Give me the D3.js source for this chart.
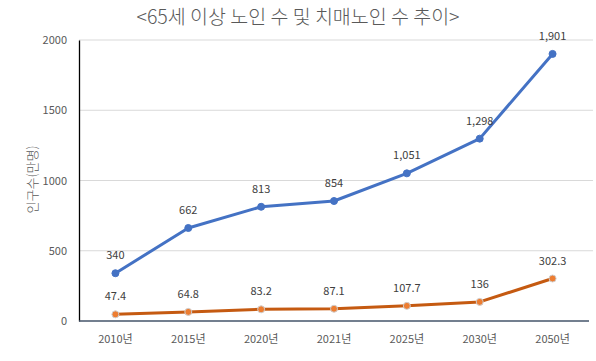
<!DOCTYPE html>
<html>
<head>
<meta charset="utf-8">
<script src="https://cdn.jsdelivr.net/npm/d3@7"></script>
<style>
  body { margin: 0; background: #fff; }
  text { font-family: "Malgun Gothic", "Noto Sans CJK KR", "Noto Sans", sans-serif; }
</style>
</head>
<body>
<svg></svg>
<script>
const WIDTH = 596;
const HEIGHT = 361;
const MARGINS = { left: 79, top: 40, right: 7, bottom: 40 };
const graphWidth = WIDTH - MARGINS.left - MARGINS.right;
const graphHeight = HEIGHT - MARGINS.top - MARGINS.bottom;

const categories = ['2010년', '2015년', '2020년', '2021년', '2025년', '2030년', '2050년'];
const elderly = [340, 662, 813, 854, 1051, 1298, 1901];
const elderlyLabels = ['340', '662', '813', '854', '1,051', '1,298', '1,901'];
const dementia = [47.4, 64.8, 83.2, 87.1, 107.7, 136, 302.3];
const dementiaLabels = ['47.4', '64.8', '83.2', '87.1', '107.7', '136', '302.3'];
const yTicks = [0, 500, 1000, 1500, 2000];

const svg = d3.select('svg').attr('width', WIDTH).attr('height', HEIGHT);

svg.append('text')
  .attr('x', WIDTH / 2)
  .attr('y', 24)
  .attr('text-anchor', 'middle')
  .attr('font-size', 19.5)
  .attr('font-weight', 300)
  .attr('fill', '#595959')
  .text('<65세 이상 노인 수 및 치매노인 수 추이>');

svg.append('text')
  .attr('transform', `translate(37, ${MARGINS.top + graphHeight / 2 - 1}) rotate(-90)`)
  .attr('text-anchor', 'middle')
  .attr('font-size', 13)
  .attr('font-weight', 300)
  .attr('fill', '#595959')
  .text('인구수(만명)');

const graph = svg.append('g')
  .attr('transform', `translate(${MARGINS.left}, ${MARGINS.top})`);

const x = d3.scaleBand().domain(categories).range([0, graphWidth]);
const y = d3.scaleLinear().domain([0, 2000]).range([graphHeight, 0]);
const cx = (d) => x(d) + x.bandwidth() / 2;

// gridlines
graph.selectAll('.grid')
  .data(yTicks.slice(1))
  .enter()
  .append('line')
  .attr('x1', 0)
  .attr('x2', graphWidth + 4)
  .attr('y1', (d) => y(d))
  .attr('y2', (d) => y(d))
  .attr('stroke', '#d9d9d9')
  .attr('stroke-width', 1);

const yAxis = d3.axisLeft(y).tickValues(yTicks).tickFormat(d3.format('d')).tickSize(0).tickPadding(12);
const yAxisGroup = graph.append('g').call(yAxis);
yAxisGroup.select('.domain').attr('stroke', '#000').attr('stroke-width', 1.3);
yAxisGroup.selectAll('text').attr('font-size', 11).attr('fill', '#595959')
  .style('font-family', '"Malgun Gothic", "Noto Sans CJK KR", sans-serif');

const xAxis = d3.axisBottom(x).tickSize(0).tickPadding(14);
const xAxisGroup = graph.append('g')
  .attr('transform', `translate(0, ${graphHeight})`)
  .call(xAxis);
xAxisGroup.select('.domain').attr('stroke', '#44546a').attr('stroke-width', 1.3)
  .attr('d', `M0,0H${graphWidth}`);
xAxisGroup.selectAll('text').attr('font-size', 11).attr('fill', '#595959')
  .style('font-family', '"Malgun Gothic", "Noto Sans CJK KR", sans-serif');

function drawSeries(values, labels, lineColor, markerColor, markerStroke) {
  const pts = categories.map((c, i) => ({ c, v: values[i], label: labels[i] }));
  const line = d3.line().x((d) => cx(d.c)).y((d) => y(d.v));
  graph.append('path')
    .datum(pts)
    .attr('d', line)
    .attr('fill', 'none')
    .attr('stroke', lineColor)
    .attr('stroke-width', 3)
    .attr('stroke-linejoin', 'round');
  graph.selectAll(null)
    .data(pts)
    .enter()
    .append('circle')
    .attr('cx', (d) => cx(d.c))
    .attr('cy', (d) => y(d.v))
    .attr('r', 3.5)
    .attr('fill', markerColor)
    .attr('stroke', markerStroke)
    .attr('stroke-width', 1);
  graph.selectAll(null)
    .data(pts)
    .enter()
    .append('text')
    .attr('x', (d) => cx(d.c))
    .attr('y', (d) => y(d.v) - 14)
    .attr('text-anchor', 'middle')
    .attr('font-size', 11)
    .attr('fill', '#404040')
    .text((d) => d.label);
}

drawSeries(elderly, elderlyLabels, '#4472c4', '#4472c4', '#4472c4');
drawSeries(dementia, dementiaLabels, '#c55a11', '#ed7d31', '#d0cece');
</script>
</body>
</html>
